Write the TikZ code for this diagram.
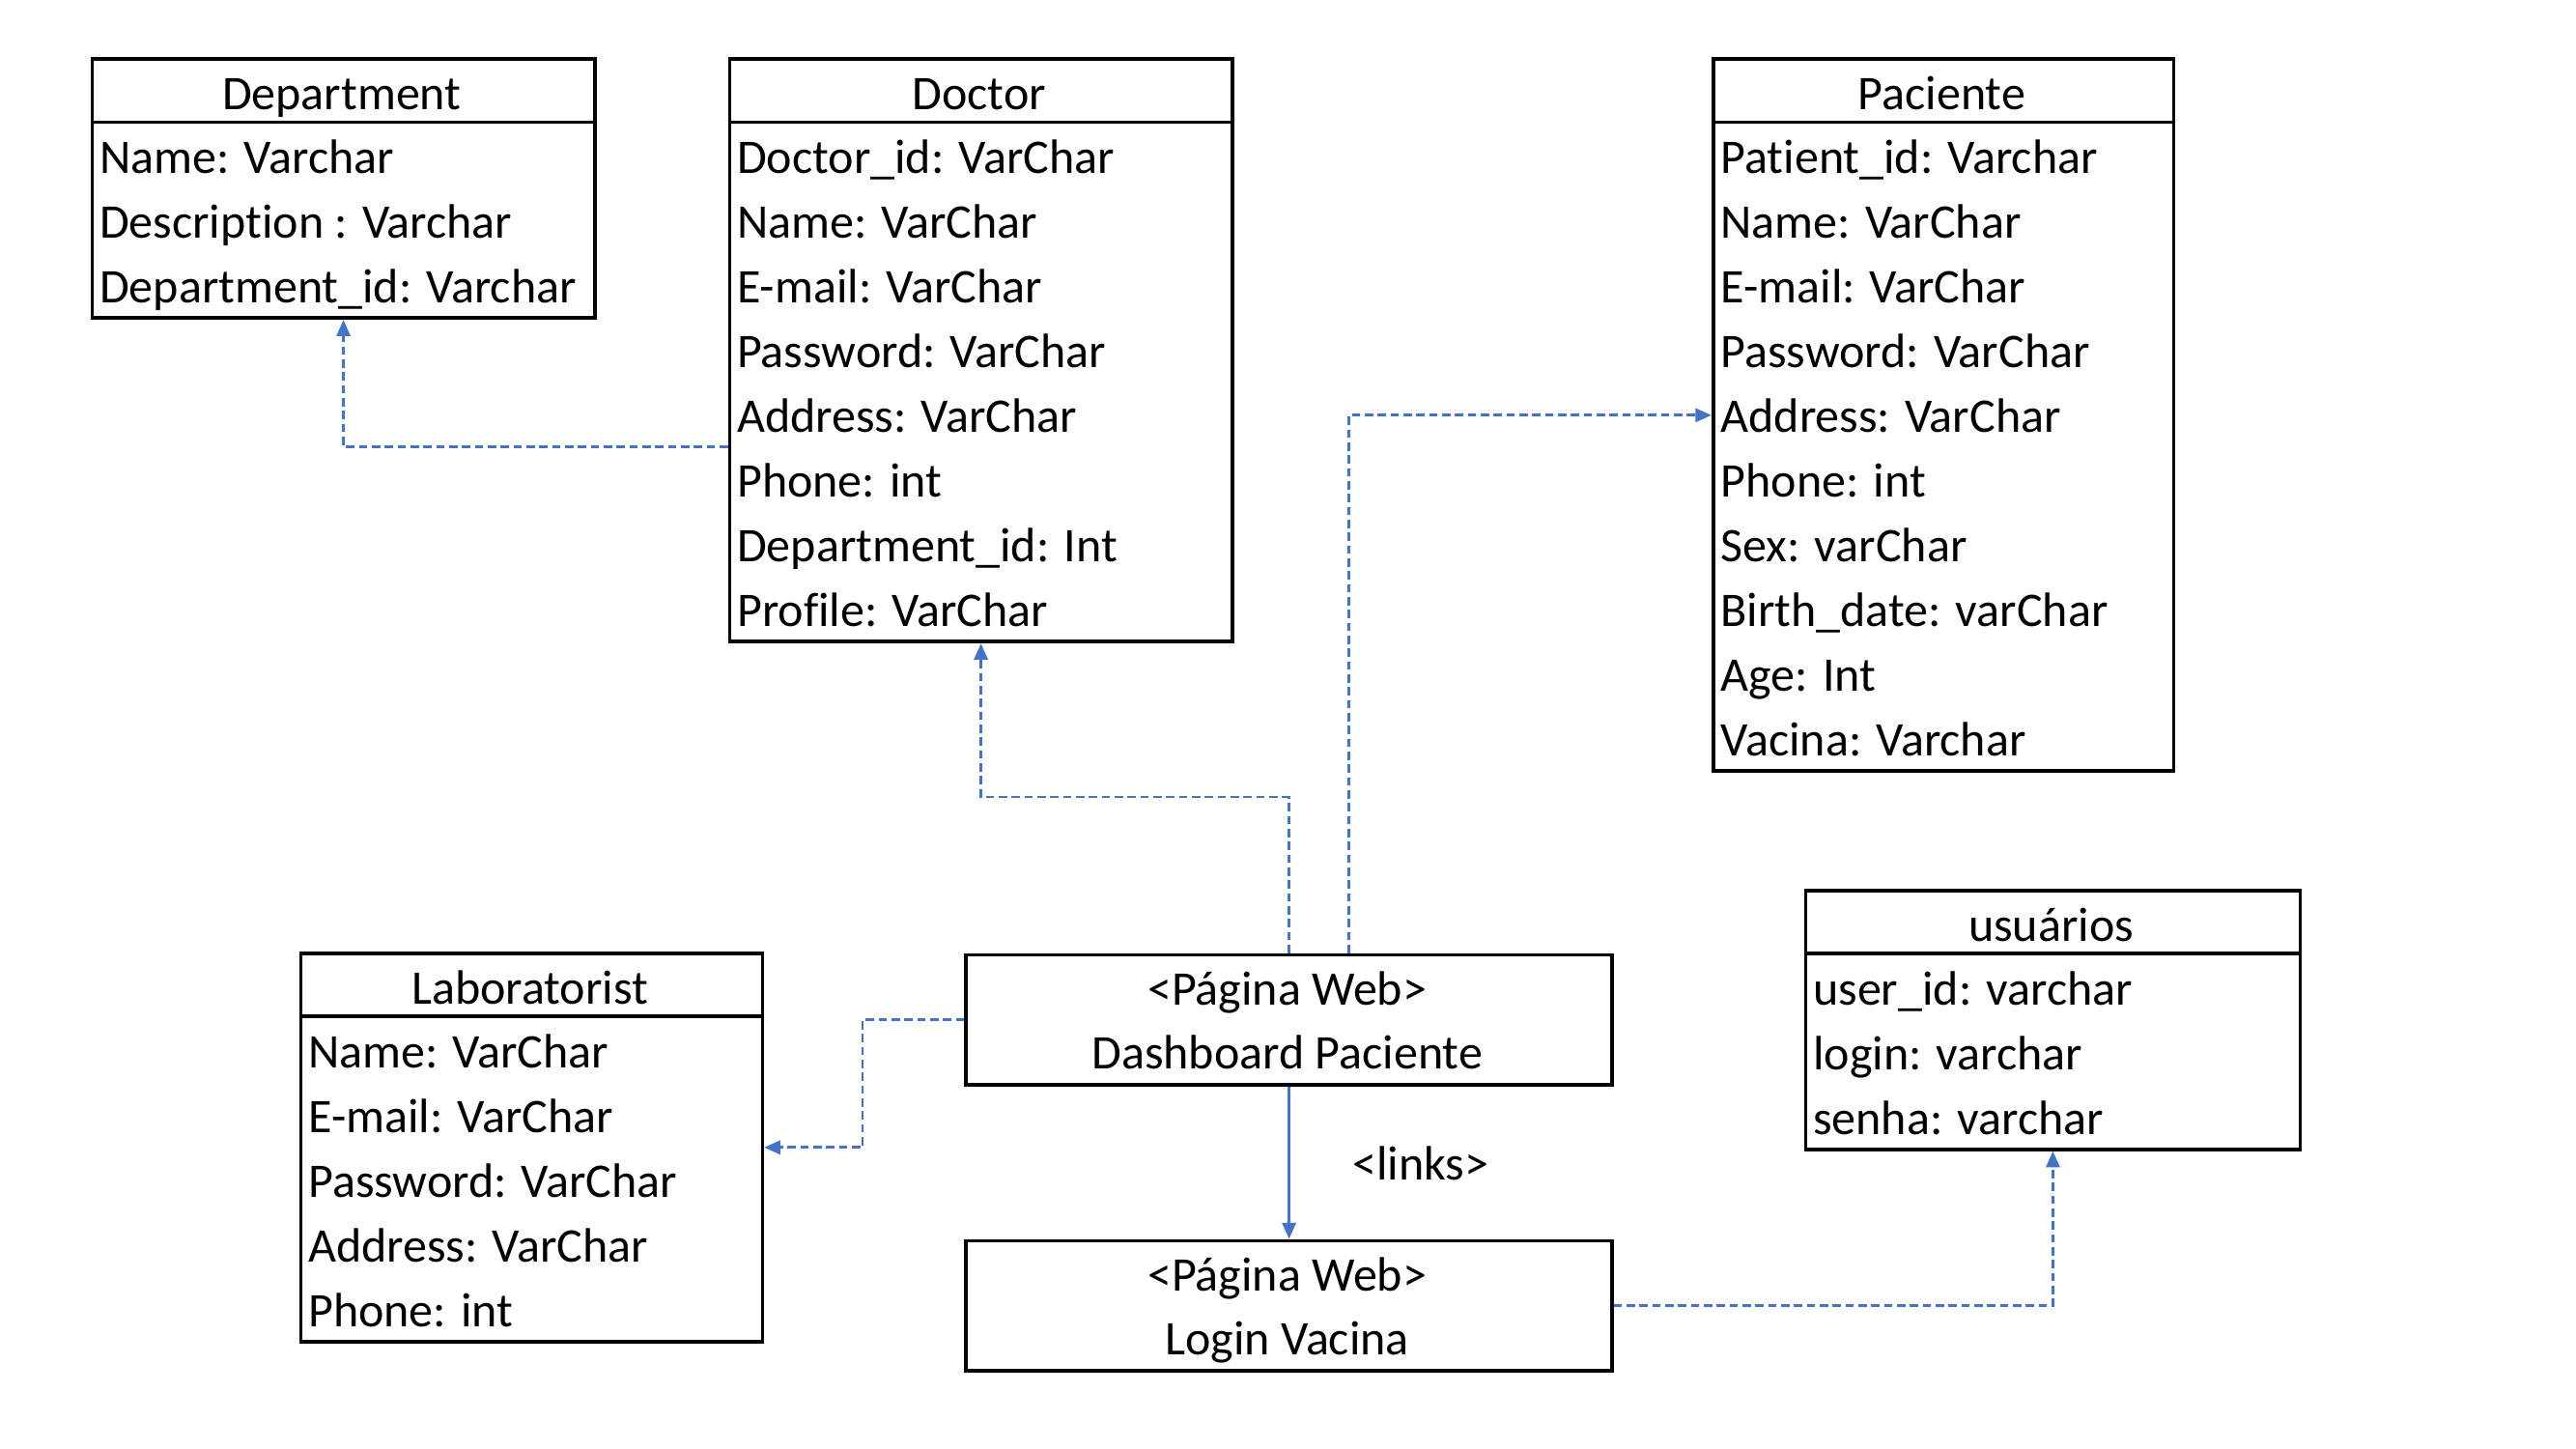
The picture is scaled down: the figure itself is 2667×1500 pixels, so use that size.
\documentclass[tikz,border=0pt]{standalone}
\usepackage{fontspec}
\setmainfont{Carlito}[Ligatures=NoCommon]
\usetikzlibrary{arrows.meta}
\definecolor{connblue}{HTML}{4472C4}
\tikzset{
  x=0.3pt, y=-0.3pt,
  boxln/.style={draw=black, line width=1.1pt},
  tbl/.style={boxln, inner sep=0pt, fill=white},
  txt/.style={inner sep=0pt, font=\fontsize{15pt}{17pt}\selectfont},
  rowtxt/.style={txt, anchor=base west},
  hdrtxt/.style={txt, anchor=base},
  conn/.style={draw=connblue, line width=0.85pt, dash pattern=on 2.6pt off 1.4pt,
    -{Triangle[length=5pt,width=4.2pt]}},
  connsolid/.style={draw=connblue, line width=0.85pt, -{Triangle[length=5pt,width=4.2pt]}},
}
% #1 name, #2 left, #3 top, #4 width, #5 rows count, #6 title, #7 rows
\newcommand{\ertable}[7]{%
  \node[tbl, anchor=north west, minimum width={#4*0.3pt}, minimum height={(67+67*#5)*0.3pt}] (#1) at (#2,#3) {};
  \draw[boxln] (#2,{#3+67}) -- ({#2+#4},{#3+67});
  \node[hdrtxt] (#1-title) at ({#2+#4/2},{#3+54}) {#6};
  \foreach \r [count=\i] in {#7} {
    \node[rowtxt] (#1-r\i) at ({#2+9},{#3+67+67*(\i-1)+53}) {\r};
  }
}
\begin{document}
\begin{tikzpicture}
\useasboundingbox[fill=white] (0,0) rectangle (2667,1500);

\ertable{dept}{93.5}{59.5}{520.5}{3}{Department}{Name: Varchar,Description : Varchar,Department\_id: Varchar}
\ertable{doc}{753.5}{59.5}{520.5}{8}{Doctor}{Doctor\_id: VarChar,Name: VarChar,E-mail: VarChar,Password: VarChar,Address: VarChar,Phone: int,Department\_id: Int,Profile: VarChar}
\ertable{pac}{1772}{59.5}{476.6}{10}{Paciente}{Patient\_id: Varchar,Name: VarChar,E-mail: VarChar,Password: VarChar,Address: VarChar,Phone: int,Sex: varChar,Birth\_date: varChar,Age: Int,Vacina: Varchar}
\ertable{lab}{309.6}{985}{477.9}{5}{Laboratorist}{Name: VarChar,E-mail: VarChar,Password: VarChar,Address: VarChar,Phone: int}
\ertable{usr}{1867.6}{920}{511.9}{3}{usuários}{user\_id: varchar,login: varchar,senha: varchar}

% web pages
\node[tbl, anchor=north west, minimum width=200.6pt, minimum height=40.35pt] (dash) at (998.4,986.5) {};
\node[hdrtxt] (dash-t1) at (1332.7,1040.5) {<Página Web>};
\node[hdrtxt] (dash-t2) at (1332.7,1106.5) {Dashboard Paciente};

\node[tbl, anchor=north west, minimum width=200.6pt, minimum height=40.35pt] (login) at (998.4,1282.5) {};
\node[hdrtxt] (login-t1) at (1332.7,1336.5) {<Página Web>};
\node[hdrtxt] (login-t2) at (1332.7,1402.5) {Login Vacina};

\node[hdrtxt] (links) at (1471,1221) {<links>};

% helper coordinates
\coordinate (c1) at (0,462.6);
\coordinate (c2) at (0,825);
\coordinate (c3) at (1396.4,0);
\coordinate (c4) at (893,0);

% connectors
\draw[conn] (doc.west |- c1) -| (dept.south);
\draw[conn] (dash.north) |- (doc.south |- c2) -- (doc.south);
\draw[conn] (dash.north -| c3) |- (pac.west);
\draw[conn] (dash.west) -- (dash.west -| c4) |- (lab.east);
\draw[connsolid] (dash.south) -- (login.north);
\draw[conn] (login.east) -| (usr.south);
\end{tikzpicture}
\end{document}
